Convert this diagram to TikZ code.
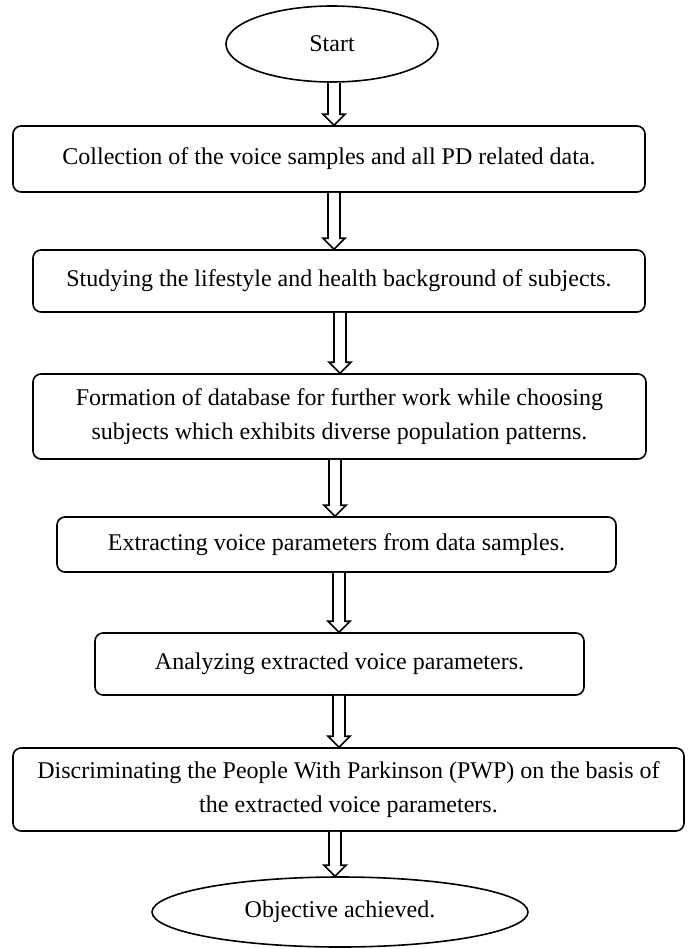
\documentclass[tikz,border=0pt]{standalone}
\usepackage{fontspec}
\setmainfont{Liberation Serif}
\usetikzlibrary{shapes.geometric,calc}

\tikzset{every picture/.style={line width=0.75pt}}
\tikzset{
  flowbox/.style={draw, line width=1.2pt, rounded corners=6pt, align=center, inner sep=0pt, font=\fontsize{18}{26}\selectfont},
  flowoval/.style={draw, ellipse, line width=1.2pt, inner sep=0pt, font=\fontsize{18}{26}\selectfont},
  hollowarrow/.style={draw, line width=1.2pt, line join=miter, fill=white}
}
% hollow block arrow: from node #1 down to node #2 at x = #3
\newcommand{\flowarrow}[3]{%
  \draw[hollowarrow] ($(#1.south -| #3,0)+(-6,0)$) -- ($(#2.north -| #3,0)+(-6,-11)$)
    -- ++(-5,0) -- (#2.north -| #3,0) -- ++(11,-11) -- ++(-5,0)
    -- ($(#1.south -| #3,0)+(6,0)$);}

\begin{document}
\begin{tikzpicture}[x=0.75pt,y=0.75pt,yscale=-1]
\useasboundingbox (0,0) rectangle (692,949);

%Shape: Ellipse [id:start]
\node[flowoval, minimum width=159pt, minimum height=57pt] (start) at (332,44) {Start};
%Rounded Rect [id:collect]
\node[flowbox, minimum width=474pt, minimum height=49.5pt] (collect) at (329,159) {Collection of the voice samples and all PD related data.};
%Rounded Rect [id:study]
\node[flowbox, minimum width=459pt, minimum height=46.5pt] (study) at (339,281) {Studying the lifestyle and health background of subjects.};
%Rounded Rect [id:database]
\node[flowbox, minimum width=459.75pt, minimum height=63.75pt] (database) at (339.5,416.5) {Formation of database for further work while choosing\\subjects which exhibits diverse population patterns.};
%Rounded Rect [id:extract]
\node[flowbox, minimum width=419.25pt, minimum height=41.25pt] (extract) at (336.5,544.5) {Extracting voice parameters from data samples.};
%Rounded Rect [id:analyze]
\node[flowbox, minimum width=366.75pt, minimum height=46.5pt] (analyze) at (339.5,664) {Analyzing extracted voice parameters.};
%Rounded Rect [id:discrim]
\node[flowbox, minimum width=503.25pt, minimum height=62.25pt] (discrim) at (348.5,789.5) {Discriminating the People With Parkinson (PWP) on the basis of\\the extracted voice parameters.};
%Shape: Ellipse [id:goal]
\node[flowoval, minimum width=282pt, minimum height=52.5pt] (goal) at (340,912) {Objective achieved.};

%Block Arrows
\flowarrow{start}{collect}{334}
\flowarrow{collect}{study}{334}
\flowarrow{study}{database}{340}
\flowarrow{database}{extract}{335}
\flowarrow{extract}{analyze}{339}
\flowarrow{analyze}{discrim}{339}
\flowarrow{discrim}{goal}{335}

\end{tikzpicture}
\end{document}
